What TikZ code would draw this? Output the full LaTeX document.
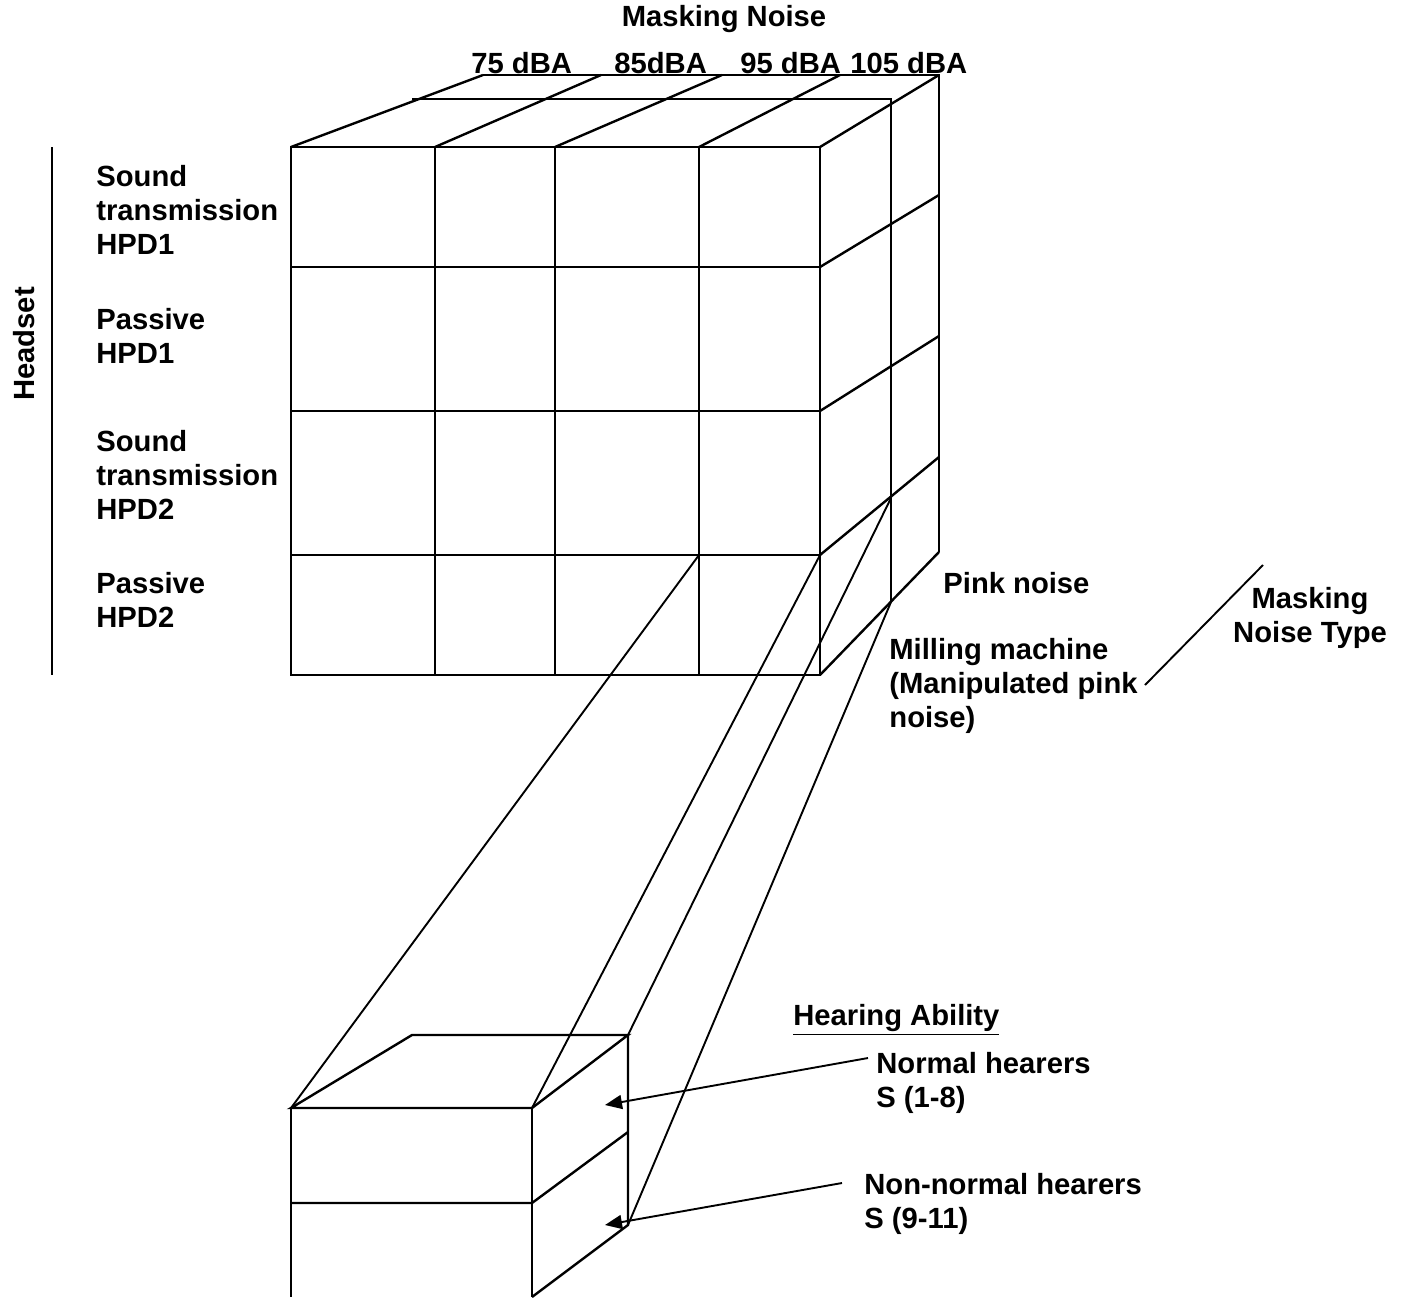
\documentclass[tikz,border=0pt]{standalone}
\usepackage{fontspec}
\setmainfont{Liberation Sans}
\usetikzlibrary{arrows.meta}

\begin{document}
\begin{tikzpicture}[
    x=0.5pt,y=-0.5pt,
    grid/.style={line width=1.2pt},
    proj/.style={line width=0.95pt},
    lbl/.style={font=\bfseries\fontsize{14.6}{17}\selectfont,inner sep=0pt,align=left},
    arr/.style={-{Triangle[length=8.5pt,width=7pt]},line width=0.95pt}
  ]
    \useasboundingbox (0,0) rectangle (1408,1297);

    % front face of the design cube
    \draw[grid] (291,147) rectangle (820,675);
    \foreach \x in {435,555,699}
      \draw[grid] (\x,147) -- (\x,675);
    \foreach \y in {267,411,555}
      \draw[grid] (291,\y) -- (820,\y);

    % top face and depth layers
    \foreach \a/\b in {291/483,435/601,555/722,699/840,820/939}
      \draw[grid] (\a,147) -- (\b,75);
    \draw[grid] (412,99) -- (891,99) -- (891,602);
    \draw[grid] (483,75) -- (939,75) -- (939,552);
    \foreach \a/\b in {267/195,411/336,555/457,675/552}
      \draw[grid] (820,\a) -- (939,\b);

    % blown-up cell
    \coordinate (c1) at (699,555);
    \coordinate (c2) at (820,555);
    \coordinate (c3) at (891,498);
    \coordinate (c4) at (891,602);
    \coordinate (b1) at (291,1108);
    \coordinate (b2) at (532,1108);
    \coordinate (b3) at (628,1035);
    \coordinate (b4) at (628,1225);
    \foreach \p/\q in {c1/b1,c2/b2,c3/b3,c4/b4}
      \draw[proj] (\p) -- (\q);

    \draw[grid] (b1) -- (b2) -- (b3) -- (412,1035) -- cycle;
    \draw[grid] (b1) -- (291,1297);
    \draw[grid] (b2) -- (532,1297);
    \draw[grid] (b3) -- (b4) -- (532,1297);
    \draw[grid] (291,1203) -- (532,1203) -- (628,1132);

    % labels
    \node[lbl] (mask) at (724,19) {Masking Noise};
    \node[lbl,anchor=base west] (l75) at (471,73) {75 dBA};
    \node[lbl,anchor=base west] (l85) at (614,73) {85dBA};
    \node[lbl,anchor=base west] (l95) at (740,73) {95 dBA};
    \node[lbl,anchor=base west] (l105) at (850,73) {105 dBA};

    \node[lbl,rotate=90] (headset) at (24,344) {Headset};
    \draw[grid] (52,147) -- (52,675);
    \node[lbl,anchor=north west] (st1) at (96,165) {Sound\\transmission\\HPD1};
    \node[lbl,anchor=north west] (pa1) at (96,308) {Passive\\HPD1};
    \node[lbl,anchor=north west] (st2) at (96,430) {Sound\\transmission\\HPD2};
    \node[lbl,anchor=north west] (pa2) at (96,572) {Passive\\HPD2};

    \node[lbl,anchor=base west] (pink) at (943,593) {Pink noise};
    \node[lbl,anchor=north west] (mill) at (889,638) {Milling machine\\(Manipulated pink\\noise)};
    \node[lbl,anchor=north,align=center] (type) at (1310,587) {Masking\\Noise Type};
    \coordinate (t1) at (1145,685);
    \coordinate (t2) at (1263,565);
    \draw[proj] (t1) -- (t2);

    \node[lbl,anchor=base west] (hear) at (793,1025) {\underline{Hearing Ability}};
    \node[lbl,anchor=north west] (norm) at (876,1052) {Normal hearers\\S (1-8)};
    \node[lbl,anchor=north west] (nonnorm) at (864,1173) {Non-normal hearers\\S (9-11)};
    \coordinate (a1) at (868,1058);
    \coordinate (a2) at (842,1183);
    \draw[arr] (a1) -- (605,1105);
    \draw[arr] (a2) -- (605,1225);
\end{tikzpicture}
\end{document}
